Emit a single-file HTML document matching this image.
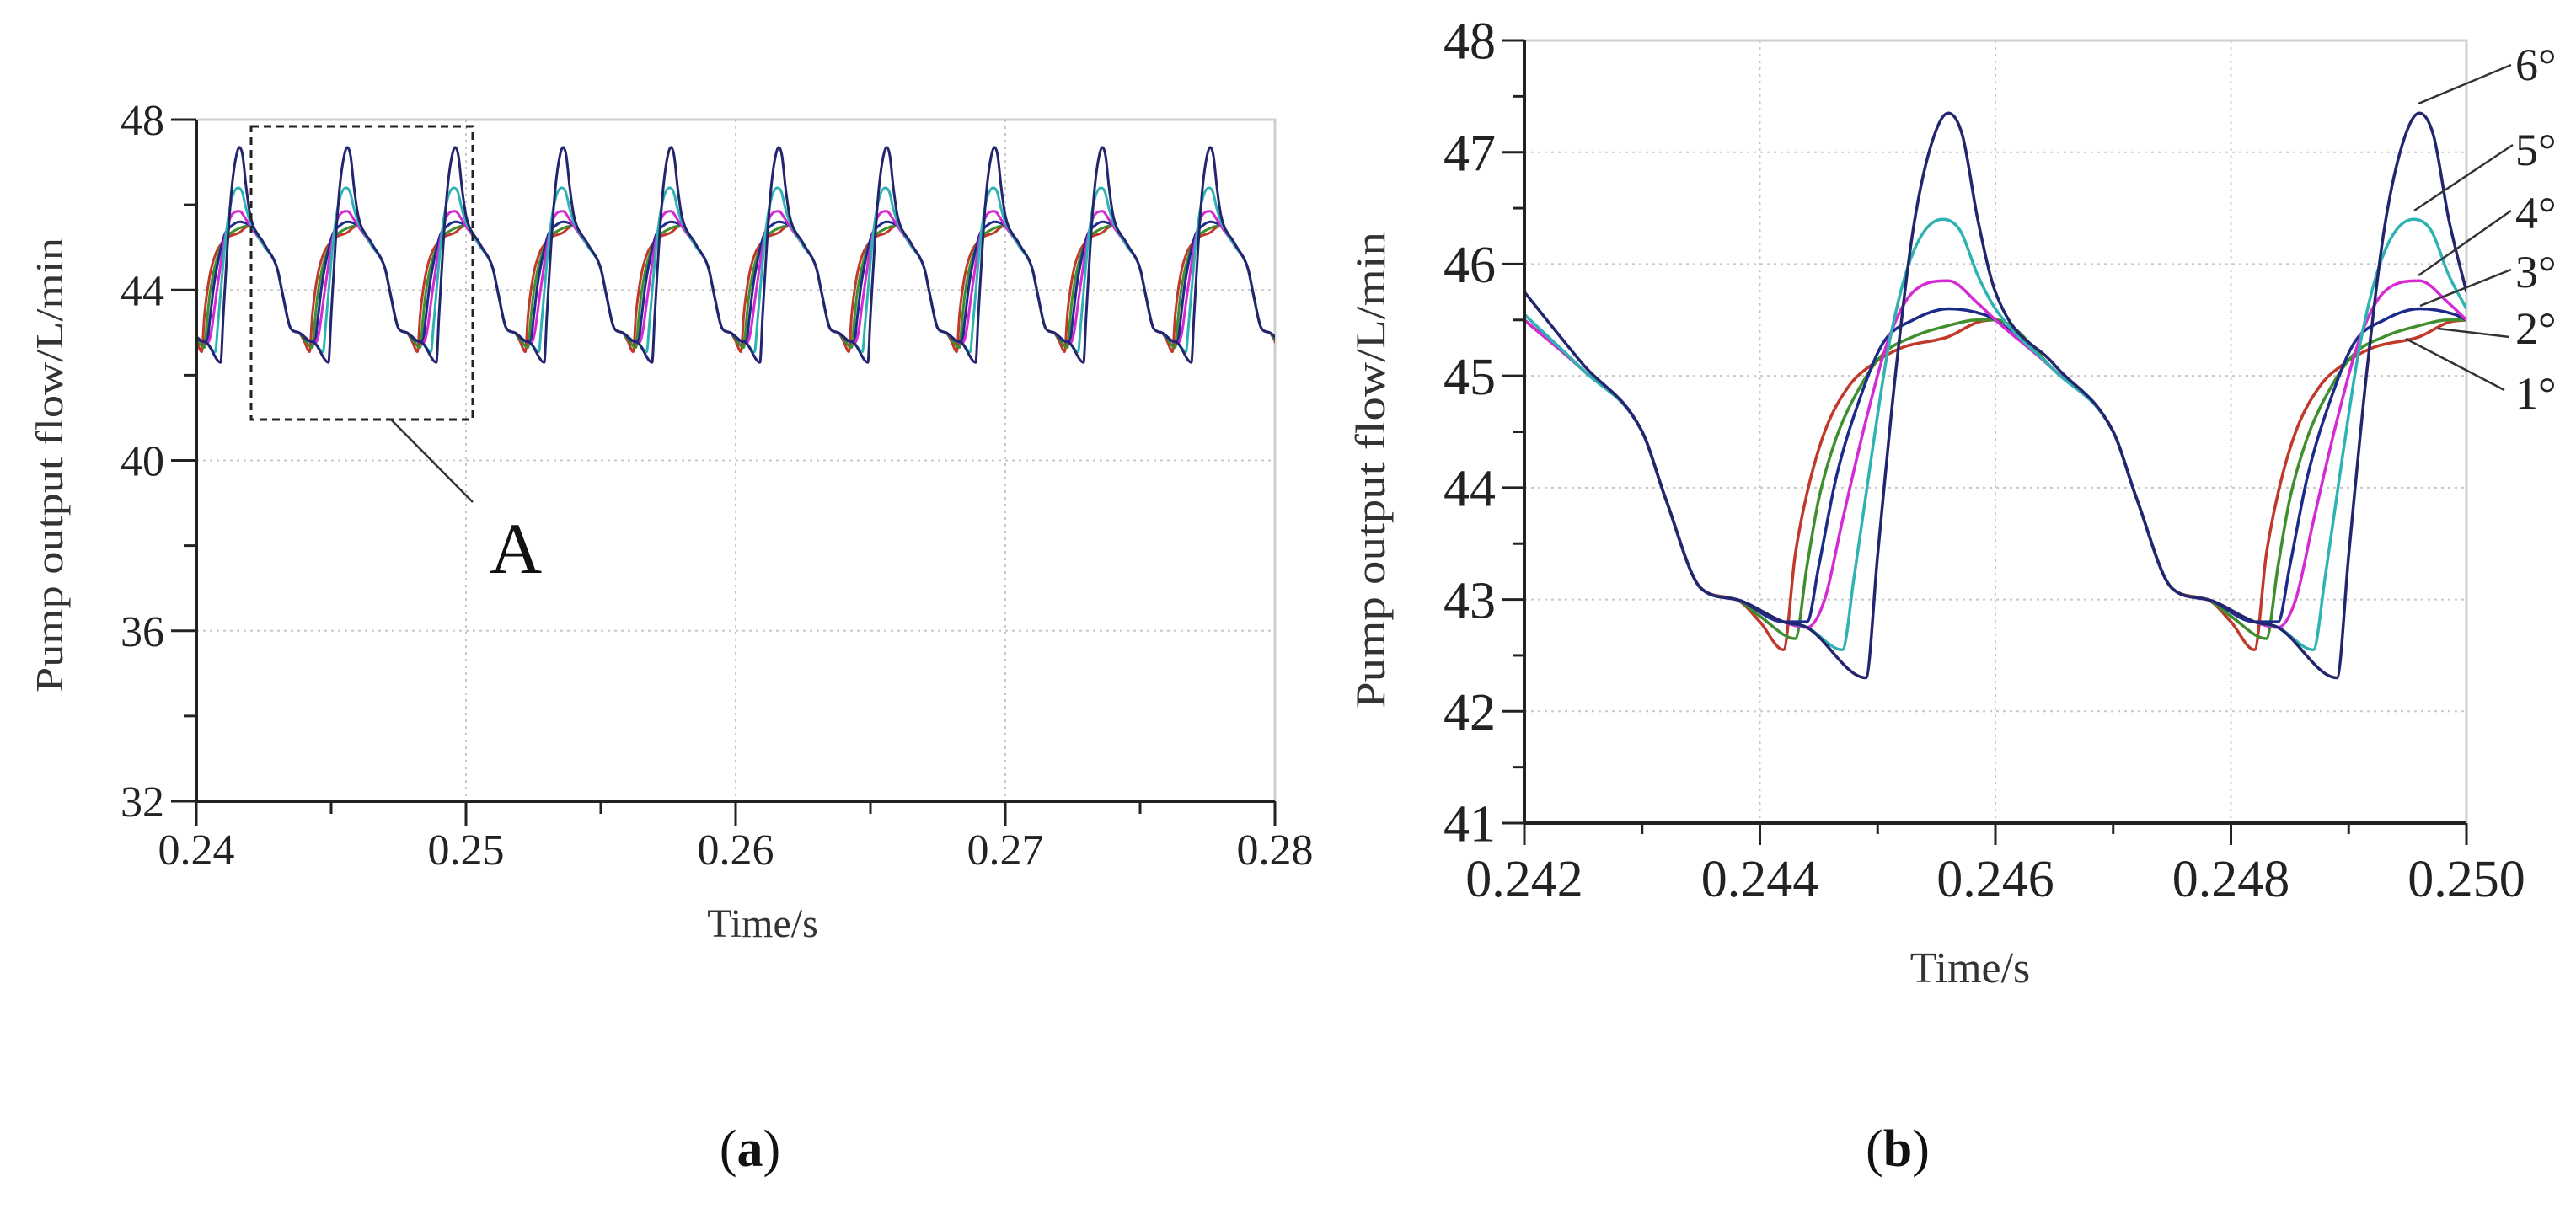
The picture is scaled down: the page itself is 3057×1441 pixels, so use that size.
<!DOCTYPE html>
<html><head><meta charset="utf-8"><style>
html,body{margin:0;padding:0;background:#fff;}
svg{display:block;font-family:"Liberation Serif",serif;}
</style></head><body>
<svg id="fig" width="3057" height="1441" viewBox="0 0 3057 1441" xmlns="http://www.w3.org/2000/svg">
<g id="chartA"></g>
<g id="chartB"></g>
</svg>
<script>
// One pump cycle (period 4 ms) per wrap angle: phase (ms after 0.242 s) and flow (L/min)
const cyclePeriodMs = 4;
const s1Phase = [0,0.5,1.0,1.2,1.5,1.8,2.0,2.2,2.3,2.4,2.55,2.75,2.95,3.2,3.6,3.85,4.0];
const s1Flow  = [45.5,45.05,44.5,43.9,43.1,43.0,42.8,42.55,43.4,43.95,44.5,44.9,45.1,45.25,45.35,45.48,45.5];
const s2Phase = [0,0.5,1.0,1.2,1.5,1.8,2.0,2.3,2.4,2.5,2.65,2.85,3.05,3.3,3.6,3.85,4.0];
const s2Flow  = [45.5,45.05,44.5,43.9,43.1,43.0,42.85,42.65,43.3,43.9,44.45,44.9,45.2,45.35,45.45,45.5,45.5];
const s3Phase = [0,0.5,1.0,1.2,1.5,1.8,2.2,2.4,2.5,2.65,2.85,3.05,3.3,3.6,3.9,4.0];
const s3Flow  = [45.5,45.05,44.5,43.9,43.1,43.0,42.8,42.8,43.3,44.1,44.8,45.3,45.5,45.6,45.55,45.5];
const s4Phase = [0,0.5,1.0,1.2,1.5,1.8,2.2,2.4,2.55,2.7,2.9,3.1,3.3,3.6,3.85,4.0];
const s4Flow  = [45.5,45.05,44.5,43.9,43.1,43.0,42.8,42.75,43.0,43.7,44.6,45.35,45.75,45.85,45.65,45.5];
const s5Phase = [0,0.5,1.0,1.2,1.5,1.8,2.2,2.4,2.7,2.8,2.95,3.1,3.3,3.55,3.7,3.85,4.0];
const s5Flow  = [45.55,45.05,44.5,43.9,43.1,43.0,42.8,42.75,42.55,43.2,44.3,45.3,46.1,46.4,46.3,45.9,45.6];
const s6Phase = [0,0.5,1.0,1.2,1.5,1.8,2.2,2.4,2.9,3.0,3.15,3.3,3.45,3.6,3.72,3.85,4.0];
const s6Flow  = [45.75,45.1,44.5,43.9,43.1,43.0,42.8,42.75,42.3,43.4,45.0,46.3,47.05,47.35,47.15,46.4,45.75];
const seriesNames = ["1°","2°","3°","4°","5°","6°"];
const seriesColors = ["#c0392b","#3f8f2f","#1c2a8a","#d42ad4","#2fb2b2","#23256e"];
// Axis ticks
const aXTicks = [0.24,0.25,0.26,0.27,0.28];
const aXTickLabels = ["0.24","0.25","0.26","0.27","0.28"];
const aYTicks = [32,36,40,44,48];
const aYTickLabels = ["32","36","40","44","48"];
const bXTicks = [0.242,0.244,0.246,0.248,0.250];
const bXTickLabels = ["0.242","0.244","0.246","0.248","0.250"];
const bYTicks = [41,42,43,44,45,46,47,48];
const bYTickLabels = ["41","42","43","44","45","46","47","48"];

const NS="http://www.w3.org/2000/svg";
function mk(parent,tag,attrs,text){const e=document.createElementNS(NS,tag);for(const k in attrs)e.setAttribute(k,attrs[k]);if(text!==undefined)e.textContent=text;parent.appendChild(e);return e;}
const phases=[s1Phase,s2Phase,s3Phase,s4Phase,s5Phase,s6Phase];
const flows=[s1Flow,s2Flow,s3Flow,s4Flow,s5Flow,s6Flow];

// monotone cubic path (no overshoot)
function monoPath(P){
  const n=P.length; if(n<2)return '';
  const d=[],m=[];
  for(let i=0;i<n-1;i++){const dx=P[i+1][0]-P[i][0];d.push(dx===0?0:(P[i+1][1]-P[i][1])/dx);}
  m[0]=d[0];m[n-1]=d[n-2];
  for(let i=1;i<n-1;i++){m[i]=(d[i-1]*d[i]<=0)?0:(d[i-1]+d[i])/2;}
  for(let i=0;i<n-1;i++){if(d[i]===0){m[i]=0;m[i+1]=0;continue;}const a=m[i]/d[i],b=m[i+1]/d[i],s=a*a+b*b;if(s>9){const t=3/Math.sqrt(s);m[i]=t*a*d[i];m[i+1]=t*b*d[i];}}
  let s='M'+P[0][0].toFixed(1)+','+P[0][1].toFixed(1);
  for(let i=0;i<n-1;i++){const h=(P[i+1][0]-P[i][0])/3;
    s+=' C'+(P[i][0]+h).toFixed(1)+','+(P[i][1]+m[i]*h).toFixed(1)+' '+(P[i+1][0]-h).toFixed(1)+','+(P[i+1][1]-m[i+1]*h).toFixed(1)+' '+P[i+1][0].toFixed(1)+','+P[i+1][1].toFixed(1);}
  return s;
}

function drawChart(g,cfg){
  const xs=v=>cfg.x0+(v-cfg.xmin)/(cfg.xmax-cfg.xmin)*(cfg.x1-cfg.x0);
  const ys=v=>cfg.y1-(v-cfg.ymin)/(cfg.ymax-cfg.ymin)*(cfg.y1-cfg.y0);
  const fr=mk(g,'rect',{x:cfg.x0,y:cfg.y0,width:cfg.x1-cfg.x0,height:cfg.y1-cfg.y0,fill:'none',stroke:'#cfcfcf','stroke-width':3});
  
  cfg.xt.forEach(v=>{if(v>cfg.xmin&&v<cfg.xmax){const l=mk(g,'line',{x1:xs(v),x2:xs(v),y1:cfg.y0,y2:cfg.y1,stroke:'#c8c8c8','stroke-width':2,'stroke-dasharray':'3 5'});}});
  cfg.yt.forEach(v=>{if(v>cfg.ymin&&v<cfg.ymax){const l=mk(g,'line',{x1:cfg.x0,x2:cfg.x1,y1:ys(v),y2:ys(v),stroke:'#c8c8c8','stroke-width':2,'stroke-dasharray':'3 5'});}});
  const clip='clip'+cfg.id;
  const cp=mk(g,'clipPath',{id:clip});mk(cp,'rect',{x:cfg.x0,y:cfg.y0-40,width:cfg.x1-cfg.x0,height:cfg.y1-cfg.y0+40});
  for(let s=0;s<6;s++){
    let pts=[];
    for(let c=cfg.cStart;c<=cfg.cEnd;c++){
      const base=0.242+c*cyclePeriodMs/1000;
      for(let i=0;i<phases[s].length;i++){
        if(c>cfg.cStart&&i===0)continue;
        const t=base+phases[s][i]/1000;
        if(t<cfg.xmin-0.0041||t>cfg.xmax+0.0041)continue;
        pts.push([xs(t),ys(flows[s][i])]);
      }
    }
    const p=mk(g,'path',{d:monoPath(pts),fill:'none',stroke:seriesColors[s],'stroke-width':cfg.lw,'stroke-linejoin':'round','clip-path':'url(#'+clip+')'});
    
    
  }
  const ax=mk(g,'line',{x1:cfg.x0,x2:cfg.x0,y1:cfg.y0,y2:cfg.y1,stroke:'#222','stroke-width':4});
  
  const axx=mk(g,'line',{x1:cfg.x0,x2:cfg.x1,y1:cfg.y1,y2:cfg.y1,stroke:'#222','stroke-width':4});
  
  cfg.xt.forEach((v,i)=>{
    mk(g,'line',{x1:xs(v),x2:xs(v),y1:cfg.y1,y2:cfg.y1+cfg.tick,stroke:'#222','stroke-width':3});
    const t=mk(g,'text',{x:xs(v),y:cfg.xly,'font-size':cfg.fs,'text-anchor':'middle',fill:'#222'},cfg.xl[i]);
    
  });
  for(let k=0;k<cfg.xt.length-1;k++){const m=(cfg.xt[k]+cfg.xt[k+1])/2;mk(g,'line',{x1:xs(m),x2:xs(m),y1:cfg.y1,y2:cfg.y1+cfg.tick/2,stroke:'#222','stroke-width':3});}
  cfg.yt.forEach((v,i)=>{
    mk(g,'line',{x1:cfg.x0-cfg.tick,x2:cfg.x0,y1:ys(v),y2:ys(v),stroke:'#222','stroke-width':3});
    const t=mk(g,'text',{x:cfg.x0-cfg.tick-8,y:ys(v)+cfg.fs*0.35,'font-size':cfg.fs,'text-anchor':'end',fill:'#222'},cfg.yl[i]);
    
  });
  for(let k=0;k<cfg.yt.length-1;k++){const m=(cfg.yt[k]+cfg.yt[k+1])/2;mk(g,'line',{x1:cfg.x0-cfg.tick/2,x2:cfg.x0,y1:ys(m),y2:ys(m),stroke:'#222','stroke-width':3});}
  return {xs,ys};
}

const gA=document.getElementById('chartA');
drawChart(gA,{id:'A',x0:233,x1:1513,y0:142,y1:951,xmin:0.24,xmax:0.28,ymin:32,ymax:48,xt:aXTicks,xl:aXTickLabels,yt:aYTicks,yl:aYTickLabels,fs:52,xly:1026,tick:30,lw:3,cStart:-1,cEnd:10});
const gB=document.getElementById('chartB');
drawChart(gB,{id:'B',x0:1809,x1:2927,y0:48,y1:977,xmin:0.242,xmax:0.250,ymin:41,ymax:48,xt:bXTicks,xl:bXTickLabels,yt:bYTicks,yl:bYTickLabels,fs:62,xly:1064,tick:26,lw:3.5,cStart:0,cEnd:1});

function txt(g,name,attrs,s){const t=mk(g,'text',attrs,s);return t;}
txt(gA,'x-axis-title',{x:905,y:1112,'font-size':48,'text-anchor':'middle',fill:'#333'},'Time/s');
txt(gA,'y-axis-title',{x:0,y:0,'font-size':46,'text-anchor':'middle',fill:'#333',textLength:540,lengthAdjust:'spacingAndGlyphs',transform:'translate(74,552) rotate(-90)'},'Pump output flow/L/min');
txt(gB,'x-axis-title',{x:2338,y:1166,'font-size':52,'text-anchor':'middle',fill:'#333'},'Time/s');
txt(gB,'y-axis-title',{x:0,y:0,'font-size':50,'text-anchor':'middle',fill:'#333',textLength:566,lengthAdjust:'spacingAndGlyphs',transform:'translate(1643,558) rotate(-90)'},'Pump output flow/L/min');
const box=mk(gA,'rect',{x:298,y:150,width:263,height:348,fill:'none',stroke:'#222','stroke-width':3,'stroke-dasharray':'9 6'});

const ln=mk(gA,'line',{x1:464,y1:498,x2:561,y2:596,stroke:'#333','stroke-width':2.5});

txt(gA,'zoom-box-label',{x:612,y:680,'font-size':86,'text-anchor':'middle',fill:'#111'},'A');
const lblY=[467,390,323,253,178,77];
const leaders=[[2855,402,2972,463],[2893,390,2978,400],[2872,363,2980,320],[2870,327,2980,250],[2865,250,2982,172],[2870,123,2980,77]];
for(let s=0;s<6;s++){
  const l=mk(gB,'line',{x1:leaders[s][0],y1:leaders[s][1],x2:leaders[s][2],y2:leaders[s][3],stroke:'#333','stroke-width':2.5});
  
  
  txt(gB,'series-label-'+(s+1),{x:2985,y:lblY[s]+18,'font-size':54,fill:'#222'},seriesNames[s]);
}
txt(gA,'panel-caption-a',{x:890,y:1384,'font-size':62,'text-anchor':'middle',fill:'#111'},'');
const ca=gA.lastChild; ca.innerHTML='(<tspan font-weight="bold">a</tspan>)';
txt(gB,'panel-caption-b',{x:2252,y:1384,'font-size':62,'text-anchor':'middle',fill:'#111'},'');
const cb=gB.lastChild; cb.innerHTML='(<tspan font-weight="bold">b</tspan>)';
</script>
</body></html>
